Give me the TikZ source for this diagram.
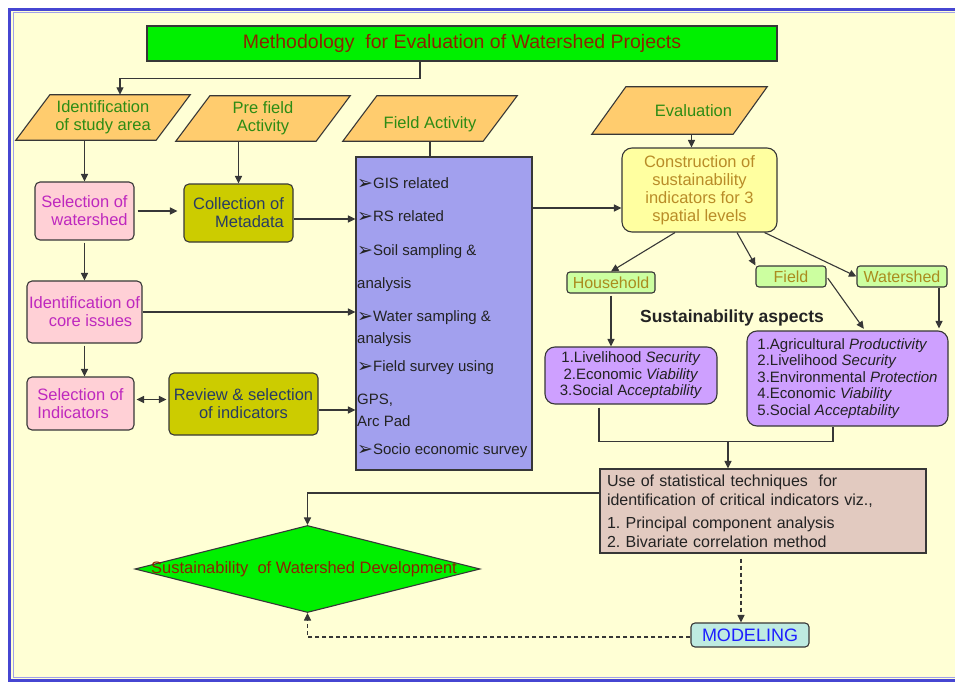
\documentclass[tikz,border=0pt]{standalone}
\usepackage{fontspec}
\setmainfont{Liberation Sans}
\newfontfamily\dvs{DejaVu Sans}
\usetikzlibrary{shapes.geometric,arrows.meta}
\definecolor{bgy}{RGB}{255,255,213}
\definecolor{framebl}{RGB}{70,70,210}
\definecolor{framelt}{RGB}{160,160,235}
\definecolor{linec}{RGB}{55,55,55}
\definecolor{titleg}{RGB}{0,240,0}
\definecolor{darkred}{RGB}{140,35,0}
\definecolor{orangef}{RGB}{255,204,110}
\definecolor{greent}{RGB}{45,140,20}
\definecolor{pinkf}{RGB}{255,208,214}
\definecolor{magt}{RGB}{190,40,190}
\definecolor{olivef}{RGB}{204,204,0}
\definecolor{olivet}{RGB}{40,60,100}
\definecolor{fieldf}{RGB}{162,160,238}
\definecolor{consf}{RGB}{255,255,160}
\definecolor{const}{RGB}{185,140,40}
\definecolor{lgreen}{RGB}{204,255,160}
\definecolor{lgreent}{RGB}{170,140,30}
\definecolor{purpf}{RGB}{206,160,255}
\definecolor{statf}{RGB}{226,202,192}
\definecolor{modf}{RGB}{190,235,225}
\definecolor{modt}{RGB}{30,30,255}
\definecolor{textd}{RGB}{35,35,35}
\newcommand\bl{{\dvs\fontsize{19}{19}\selectfont\raisebox{-1pt}{➢}}}
\pgfdeclarelayer{framelayer}
\pgfdeclarelayer{shapelayer}
\pgfsetlayers{framelayer,shapelayer,main}
\frenchspacing
\begin{document}
\begin{tikzpicture}[x=1pt,y=-1pt,
  box/.style={draw=linec, line width=1.1pt, inner sep=0pt},
  ptext/.style={inner sep=0pt, minimum height=45, minimum width=174, text=greent,
    align=center, font=\fontsize{16.5}{17.7}\selectfont},
  pshape/.style={draw=linec, line width=1.1pt, fill=orangef, line join=miter},
  pinkbox/.style={box, rounded corners=5, fill=pinkf, text=magt,
    font=\fontsize{16.5}{18}\selectfont},
  olivebox/.style={box, rounded corners=5, fill=olivef, text=olivet,
    font=\fontsize{16.5}{18}\selectfont},
  greenbox/.style={box, rounded corners=3, fill=lgreen, text=lgreent,
    font=\fontsize{16}{18}\selectfont, minimum height=21},
  purpbox/.style={box, rounded corners=10, fill=purpf, text=textd,
    font=\fontsize{15}{16.5}\selectfont},
  line/.style={draw=linec, line width=1.1pt},
  arr/.style={line, -{Triangle[length=7.5pt,width=7pt]}},
  darr/.style={arr, dash pattern=on 4pt off 3pt}]
\useasboundingbox (0,0) rectangle (955,682);
% frame
\begin{pgfonlayer}{framelayer}
\fill[white] (0,0) rectangle (955,682);
\fill[bgy] (10,10) rectangle (955,680);
\draw[framebl, line width=3pt] (9.5,9.5) rectangle (975,680.5);
\draw[framelt, line width=1.3pt] (13.5,12.5) rectangle (975,677.5);
\end{pgfonlayer}

% title
\node[box, fill=titleg, minimum width=630, minimum height=35, text=darkred,
  font=\fontsize{19.5}{22}\selectfont] (title) at (462,43.5)
  {Methodology\ \ for Evaluation of Watershed Projects};

% parallelograms (text nodes, outlines drawn below on the shape layer)
\node[ptext] (p1) at (103,117.5) {Identification\\of study area};
\node[ptext] (p2) at (263,118.5) {Pre field\\Activity};
\node[ptext] (p3) at (430,118.5) {};
\node[text=greent, font=\fontsize{16.5}{17.7}\selectfont] (p3t) at (430,124) {Field Activity};
\node[ptext, minimum width=175, minimum height=47] (p4) at (679.5,110.5) {\hspace*{28pt}Evaluation};
\begin{pgfonlayer}{shapelayer}
\foreach \p in {p1,p2,p3,p4}
  \draw[pshape] (\p.south west) -- ([xshift=34pt]\p.north west) -- (\p.north east)
    -- ([xshift=-34pt]\p.south east) -- cycle;
\end{pgfonlayer}

% left column
\node[pinkbox, minimum width=99, minimum height=58, align=right] (sw) at (84.5,211) {Selection of\\watershed};
\node[pinkbox, minimum width=115, minimum height=62, align=center] (ci) at (84.5,312) {Identification of\\\hspace*{12pt}core issues};
\node[pinkbox, minimum width=107, minimum height=53, align=left] (si) at (80.5,403.5) {Selection of\\Indicators\hspace*{14pt}};
\node[olivebox, minimum width=109, minimum height=58, align=right] (cm) at (238.5,213) {Collection of\\Metadata};
\node[olivebox, minimum width=149, minimum height=62, align=center] (rv) at (243.5,404) {Review \& selection\\of indicators};

% field activity box
\node[box, fill=fieldf, minimum width=176, minimum height=313] (fb) at (444,313.5) {};
\node[anchor=north west, inner sep=0pt, align=left, text=textd,
  font=\fontsize{15}{22}\selectfont] (fat) at (357,177)
  {\bl GIS related\\[11pt]\bl RS related\\[12pt]\bl Soil sampling \&\\[11pt]analysis\\[11pt]%
   \bl Water sampling \&\\analysis\\[6pt]\bl Field survey using\\[11pt]GPS,\\Arc Pad\\[6pt]%
   \bl Socio economic survey};

% right part
\node[box, rounded corners=10, fill=consf, text=const, minimum width=155, minimum height=84,
  align=center, font=\fontsize{16.5}{18}\selectfont] (cs) at (699.5,190)
  {Construction of\\sustainability\\indicators for 3\\spatial levels};
\node[greenbox, minimum width=88] (hh) at (611,282.5) {Household};
\node[greenbox, minimum width=70] (fd) at (791,276.5) {Field};
\node[greenbox, minimum width=90] (ws) at (902,276.5) {Watershed};
\node[font=\bfseries\fontsize{17.5}{19}\selectfont, text=textd] (sa) at (732,318) {Sustainability aspects};
\node[purpbox, minimum width=172, minimum height=57, align=center] (lp) at (631,375.5)
  {1.Livelihood \textit{Security}\\2.Economic \textit{Viability}\\3.Social A\textit{cceptability}};
\node[purpbox, minimum width=201, minimum height=95, align=left] (rp) at (847.5,378.5)
  {1.Agricultural \textit{Productivity}\\2.Livelihood \textit{Security}\\3.Environmental \textit{Protection}\\4.Economic \textit{Viability}\\5.Social \textit{Acceptability}};
\node[box, fill=statf, text=textd, minimum height=84, text width=312, inner xsep=7pt,
  align=left, font=\fontsize{16}{19}\selectfont] (st) at (763,511)
  {Use of statistical techniques\ \ for\\identification of critical indicators viz.,\\[4pt]1. Principal component analysis\\2. Bivariate correlation method};
\node[diamond, draw=linec, line width=1.1pt, fill=titleg, minimum width=345, minimum height=87, inner sep=0pt] (dm) at (307.5,569) {};
\node[text=darkred, font=\fontsize{16.5}{18}\selectfont] (dmt) at (304,569) {Sustainability\ \ of Watershed Development};
\node[box, rounded corners=4, fill=modf, text=modt, minimum width=118, minimum height=24,
  font=\fontsize{18}{20}\selectfont] (md) at (750,635) {MODELING};

% connectors
\draw[arr] ([xshift=-42pt]title.south) -- ++(0,17) -| ([xshift=17pt]p1.north);
\draw[arr] (p1.south -| sw.north) -- (sw.north);
\draw[arr] (p2.south -| cm.north) -- (cm.north);
\draw[line] (p3.south) -- (p3.south |- fb.north);
\coordinate (p4s) at ([xshift=12pt]p4.south);
\draw[arr] (p4s) -- (p4s |- cs.north);
\draw[arr, shorten <=3pt, shorten >=6pt] (sw.east) -- (sw.east -| cm.west);
\coordinate (cme) at ([yshift=-6pt]cm.east);
\draw[arr] (cme) -- (cme -| fb.west);
\draw[arr, shorten <=2pt] (sw.south) -- (sw.south |- ci.north);
\draw[arr] (ci.east) -- (ci.east -| fb.west);
\draw[arr, shorten <=2pt] (ci.south) -- (ci.south |- si.north);
\coordinate (sie) at ([yshift=4pt]si.east);
\draw[line, {Triangle[length=7.5pt,width=7pt]}-{Triangle[length=7.5pt,width=7pt]}, shorten <=2pt, shorten >=2pt] (sie) -- (sie -| rv.west);
\coordinate (rve) at ([yshift=-6pt]rv.east);
\draw[arr] (rve) -- (rve -| fb.west);
\coordinate (cin) at ([yshift=-18pt]cs.west);
\draw[arr] (fb.east |- cin) -- (cin);
\draw[arr] ([xshift=-24.5pt]cs.south) -- (hh.north);
\draw[arr] ([xshift=37.5pt]cs.south) -- (fd.north west);
\draw[arr] ([xshift=65pt]cs.south) -- (ws.west);
\draw[arr, shorten <=2pt] (hh.south) -- (hh.south |- lp.north);
\draw[arr, shorten <=2pt, shorten >=2pt] (fd.east) -- ([xshift=17.5pt]rp.north);
\coordinate (wsd) at ([xshift=37pt]ws.south);
\draw[arr, shorten >=2pt] (wsd) -- (wsd |- rp.north);
\coordinate (lpb) at ([xshift=-32pt]lp.south);
\coordinate (rpb) at ([xshift=-14.5pt]rp.south);
\coordinate (mj) at ([xshift=-35pt, yshift=27pt]st.north);
\draw[line] ([yshift=-3pt]lpb) -- (lpb |- mj) -- (rpb |- mj) -- (rpb);
\draw[arr] (mj) -- (mj |- st.north);
\coordinate (stl) at ([yshift=18pt]st.west);
\draw[arr] (stl) -| (dm.north);
\coordinate (sd) at ([xshift=-22pt, yshift=-5pt]st.south);
\draw[darr] (sd) -- (sd |- md.north);
\draw[darr] ([yshift=-2pt]md.west) -| (dm.south);
\end{tikzpicture}
\end{document}
